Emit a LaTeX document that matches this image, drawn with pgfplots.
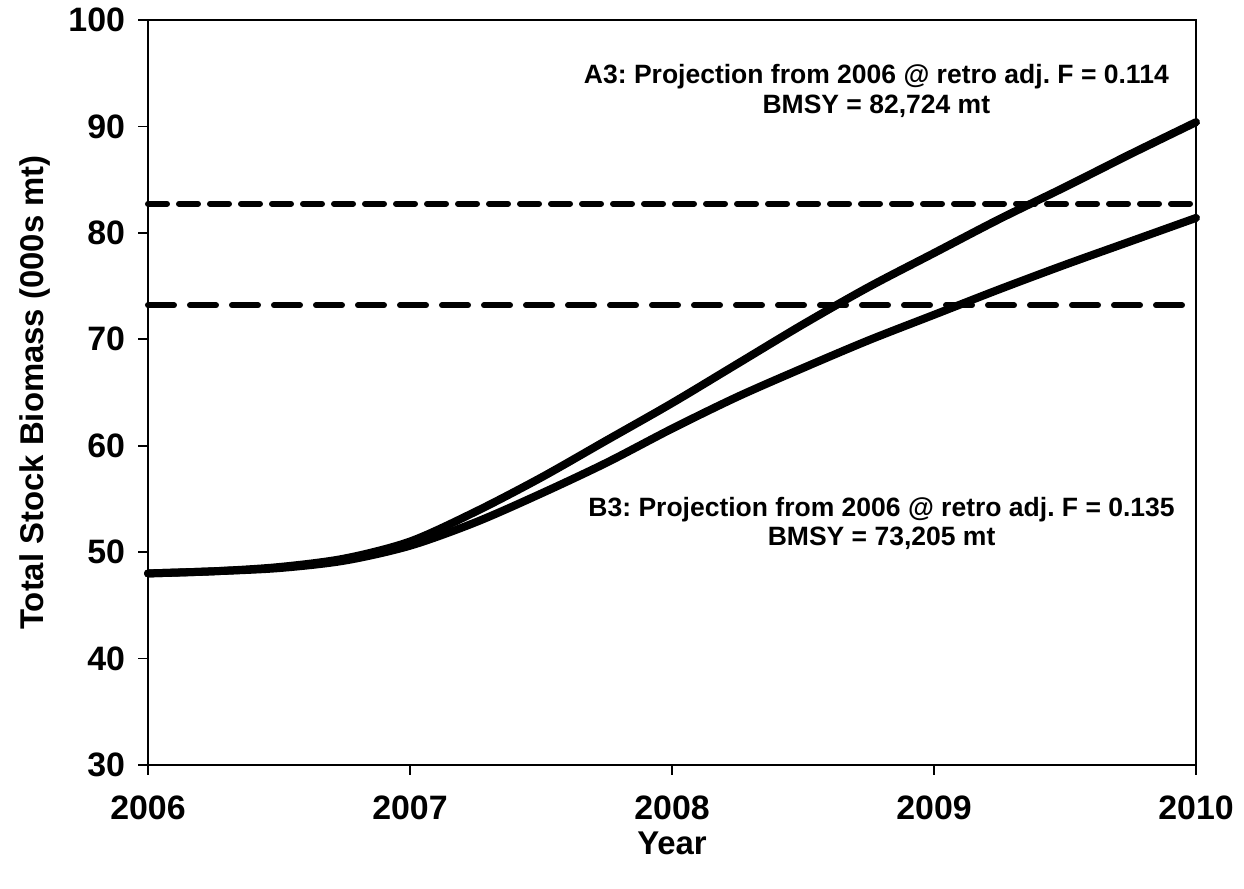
\documentclass[border=0pt]{standalone}
\usepackage{pgfplots}
\pgfplotsset{compat=1.18}
\usepackage{fontspec}
\setmainfont{Liberation Sans}
\frenchspacing
\begin{document}
\begin{tikzpicture}[x=1bp,y=1bp]
\path[use as bounding box] (-74,-62) rectangle (548,382.5);
\begin{axis}[
  at={(0,0)}, anchor=origin,
  scale only axis, width=524bp, height=372.5bp,
  xmin=2006, xmax=2010, ymin=30, ymax=100,
  xtick={2006,2007,2008,2009,2010},
  ytick={30,40,...,100},
  xticklabel style={/pgf/number format/1000 sep={}},
  /pgf/number format/assume math mode=true,
  tick label style={font=\fontsize{17}{19}\selectfont\bfseries},
  xticklabel style={yshift=-7bp},
  yticklabel style={xshift=-3bp},
  tick align=outside, tick pos=left,
  major tick length=5bp,
  axis line style={line width=0.9bp},
  every tick/.style={line width=0.9bp, black},
  xlabel={Year}, ylabel={Total Stock Biomass (000s mt)},
  label style={font=\fontsize{16.5}{18}\selectfont\bfseries},
  xlabel style={yshift=1bp},
  ylabel style={yshift=2bp},
  clip=false,
]
\addplot[black, line width=3bp, dash pattern=on 9.5bp off 6bp, line cap=round] coordinates {(2006,82.724) (2010,82.724)};
\addplot[black, line width=3bp, dash pattern=on 13bp off 8bp, line cap=round] coordinates {(2006,73.205) (2010,73.205)};
\addplot[black, line width=4bp, smooth, line cap=round] coordinates {
(2006.00,48.0) (2006.25,48.2) (2006.50,48.6) (2006.75,49.4) (2007.00,51.0)
(2007.25,53.8) (2007.50,57.0) (2007.75,60.5) (2008.00,64.0) (2008.25,67.7)
(2008.50,71.4) (2008.75,74.9) (2009.00,78.1) (2009.25,81.3) (2009.50,84.3)
(2009.75,87.4) (2010.00,90.4)};
\addplot[black, line width=4bp, smooth, line cap=round] coordinates {
(2006.00,48.0) (2006.25,48.2) (2006.50,48.5) (2006.75,49.2) (2007.00,50.6)
(2007.25,52.8) (2007.50,55.5) (2007.75,58.4) (2008.00,61.6) (2008.25,64.6)
(2008.50,67.3) (2008.75,69.9) (2009.00,72.3) (2009.25,74.7) (2009.50,77.0)
(2009.75,79.2) (2010.00,81.4)};
\node[font=\fontsize{13.3}{15}\selectfont\bfseries, align=center] at (axis cs:2008.78,93.3) {A3: Projection from 2006 @ retro adj. F = 0.114\\BMSY = 82,724 mt};
\node[font=\fontsize{13.3}{15}\selectfont\bfseries, align=center] at (axis cs:2008.80,52.7) {B3: Projection from 2006 @ retro adj. F = 0.135\\BMSY = 73,205 mt};
\end{axis}
\end{tikzpicture}
\end{document}
